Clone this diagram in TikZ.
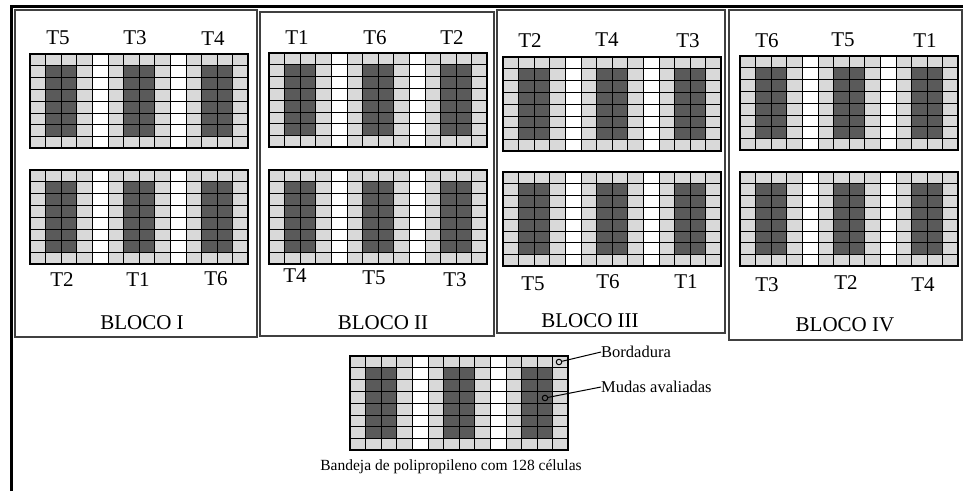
\documentclass[tikz,border=0pt]{standalone}
\usepackage{fontspec}
\setmainfont{Liberation Serif}
\definecolor{cellLight}{HTML}{D9D9D9}
\definecolor{cellDark}{HTML}{5A5A5A}
\tikzset{
  gridline/.style={black, line width=0.9pt},
  trayedge/.style={black, line width=2pt},
  blockframe/.style={draw=black!75, line width=1.2pt},
  tlabel/.style={font=\fontsize{21}{21}\selectfont, inner sep=0pt},
  blocklabel/.style={font=\fontsize{21}{21}\selectfont, inner sep=0pt},
  legendtext/.style={font=\fontsize{16.5}{16.5}\selectfont, inner sep=0pt, anchor=west},
  captiontext/.style={font=\fontsize{15.5}{15.5}\selectfont, inner sep=0pt},
  dotmark/.style={circle, draw=black, line width=1pt, inner sep=0pt, minimum size=5.5pt},
}
% One tray of 14 x 8 cells; #1 name, #2 left, #3 top
\newcommand\seedtray[3]{%
\begin{scope}[shift={(#2,#3)}]
  \fill[cellLight] (0,0) rectangle (218.4,94.4);
  \foreach \c in {4,9} \fill[white] (\c*15.6,0) rectangle ++(15.6,94.4);
  \foreach \c in {1,6,11} \fill[cellDark] (\c*15.6,11.8) rectangle ++(31.2,70.8);
  \foreach \i in {1,...,13} \draw[gridline] (\i*15.6,0) -- (\i*15.6,94.4);
  \foreach \j in {1,...,7} \draw[gridline] (0,\j*11.8) -- (218.4,\j*11.8);
  \draw[trayedge] (0,0) rectangle (218.4,94.4);
  \coordinate (#1) at (0,0);
\end{scope}}
\begin{document}
\begin{tikzpicture}[x=1pt, y=-1pt]
\useasboundingbox (0,0) rectangle (963,491);
\fill[white] (0,0) rectangle (963,491);
% outer frame
\draw[line width=3pt] (11,491) -- (11,6) -- (963,6);
% block frames
\draw[blockframe] (15,10) rectangle (257,337);
\draw[blockframe] (260,12) rectangle (494,336);
\draw[blockframe] (497,10) rectangle (725,333);
\draw[blockframe] (729,10) rectangle (962,340);
% block I
\seedtray{b1a}{30}{54}
\seedtray{b1b}{30}{170}
\node[tlabel] (b1t5) at (58,38) {T5};
\node[tlabel] (b1t3) at (135,38) {T3};
\node[tlabel] (b1t4) at (213,39) {T4};
\node[tlabel] (b1t2) at (62,280) {T2};
\node[tlabel] (b1t1) at (138,280) {T1};
\node[tlabel] (b1t6) at (216,279) {T6};
\node[blocklabel] (b1) at (142,323) {BLOCO I};
% block II
\seedtray{b2a}{269}{53}
\seedtray{b2b}{269}{170}
\node[tlabel] (b2t1) at (297,38) {T1};
\node[tlabel] (b2t6) at (375,38) {T6};
\node[tlabel] (b2t2) at (452,38) {T2};
\node[tlabel] (b2t4) at (295,276) {T4};
\node[tlabel] (b2t5) at (374,278) {T5};
\node[tlabel] (b2t3) at (455,280) {T3};
\node[blocklabel] (b2) at (383,323) {BLOCO II};
% block III
\seedtray{b3a}{503}{57}
\seedtray{b3b}{503}{172}
\node[tlabel] (b3t2) at (530,41) {T2};
\node[tlabel] (b3t4) at (607,40) {T4};
\node[tlabel] (b3t3) at (688,41) {T3};
\node[tlabel] (b3t5) at (533,284) {T5};
\node[tlabel] (b3t6) at (608,282) {T6};
\node[tlabel] (b3t1) at (686,282) {T1};
\node[blocklabel] (b3) at (590,321) {BLOCO III};
% block IV
\seedtray{b4a}{740}{56}
\seedtray{b4b}{740}{172}
\node[tlabel] (b4t6) at (767,41) {T6};
\node[tlabel] (b4t5) at (843,40) {T5};
\node[tlabel] (b4t1) at (925,41) {T1};
\node[tlabel] (b4t3) at (767,285) {T3};
\node[tlabel] (b4t2) at (846,283) {T2};
\node[tlabel] (b4t4) at (923,285) {T4};
\node[blocklabel] (b4) at (845,325) {BLOCO IV};
% legend tray
\seedtray{leg}{350}{356}
\node[dotmark, fill=cellLight] (bdot) at (559,362) {};
\node[dotmark, fill=cellDark] (mdot) at (545,398) {};
\node[legendtext] (bord) at (601,352) {Bordadura};
\node[legendtext] (mudas) at (601,387) {Mudas avaliadas};
\draw[line width=1pt] (bdot) -- (bord.west);
\draw[line width=1pt] (mdot) -- (mudas.west);
\node[captiontext] (cap) at (451,467) {Bandeja de polipropileno com 128 células};
\end{tikzpicture}
\end{document}
